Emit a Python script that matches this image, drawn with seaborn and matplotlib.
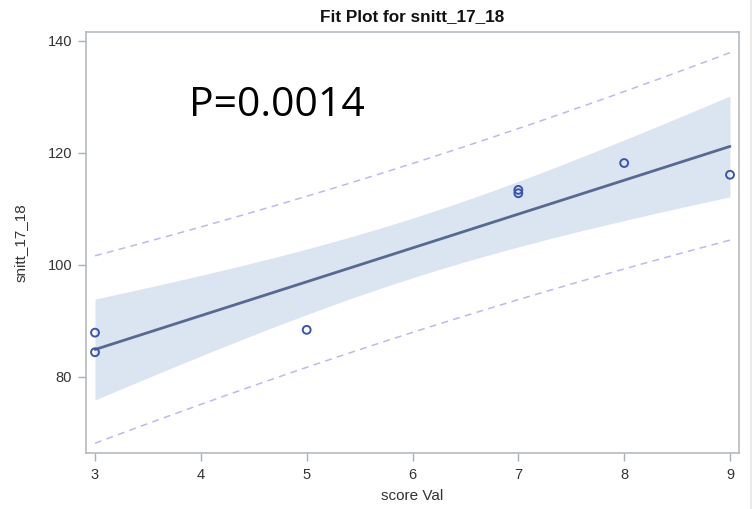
import numpy as np
import pandas as pd
import matplotlib
matplotlib.use("Agg")
import matplotlib.pyplot as plt
from matplotlib.lines import Line2D
import seaborn as sns

# Observations
score_val = [3, 3, 5, 7, 7, 8, 9]
snitt_17_18 = [87.9, 84.4, 88.4, 113.4, 112.8, 118.2, 116.1]

x_ticks = [3, 4, 5, 6, 7, 8, 9]
y_ticks = [80, 100, 120, 140]
p_label = "P=0.0014"

T_975_DF5 = 2.5706  # two-sided 95% t quantile, 5 degrees of freedom

sns.set_theme(style="white")
plt.rcParams["font.family"] = ["Liberation Sans", "DejaVu Sans"]

df = pd.DataFrame({"score Val": score_val, "snitt_17_18": snitt_17_18})

# Ordinary least squares fit with confidence and prediction limits
x = np.asarray(score_val, float)
y = np.asarray(snitt_17_18, float)
n = len(x)
xm = x.mean()
sxx = ((x - xm) ** 2).sum()
slope = ((x - xm) * (y - y.mean())).sum() / sxx
intercept = y.mean() - slope * xm
resid = y - (intercept + slope * x)
s = np.sqrt((resid ** 2).sum() / (n - 2))

xg = np.linspace(x.min(), x.max(), 200)
yg = intercept + slope * xg
se_mean = s * np.sqrt(1 / n + (xg - xm) ** 2 / sxx)
se_pred = s * np.sqrt(1 + 1 / n + (xg - xm) ** 2 / sxx)
grid = pd.DataFrame({
    "x": xg, "fit": yg,
    "clm_lo": yg - T_975_DF5 * se_mean, "clm_hi": yg + T_975_DF5 * se_mean,
    "pi_lo": yg - T_975_DF5 * se_pred, "pi_hi": yg + T_975_DF5 * se_pred,
})

fig = plt.figure(figsize=(7.52, 5.09), dpi=100)
ax = fig.add_axes([0.1144, 0.110, 0.8683, 0.8271])

ax.fill_between(grid["x"], grid["clm_lo"], grid["clm_hi"],
                color="#dbe4f1", linewidth=0, zorder=1)
sns.lineplot(data=grid, x="x", y="fit", ax=ax, color="#56698e",
             linewidth=2.0, zorder=3)
for col in ("pi_lo", "pi_hi"):
    sns.lineplot(data=grid, x="x", y=col, ax=ax, color="#b9bde6",
                 linewidth=1.1, zorder=2).lines[-1].set_dashes([4.5, 3.5])
sns.scatterplot(data=df, x="score Val", y="snitt_17_18", ax=ax,
                marker="o", s=32, facecolor="none", edgecolor="#3a55b0",
                linewidth=1.4, zorder=4)

ax.set_xlim(2.915, 9.085)
ax.set_ylim(66.4, 141.6)
ax.set_xticks(x_ticks)
ax.set_yticks(y_ticks)
ax.set_xticklabels([str(t) for t in x_ticks])
ax.set_yticklabels([str(t) for t in y_ticks])
ax.tick_params(axis="both", which="both", direction="out", length=6, width=1,
               color="#a9b0b6", labelcolor="#333333", labelsize=10.5, pad=4,
               bottom=True, left=True)
ax.tick_params(axis="x", pad=5)
for side in ax.spines.values():
    side.set_color("#b4bbc0")
    side.set_linewidth(1.2)

ax.set_xlabel("score Val", fontsize=11, color="#333333", labelpad=5)
ax.set_ylabel("snitt_17_18", fontsize=11, color="#333333", labelpad=14)
ax.set_title("Fit Plot for snitt_17_18", fontsize=12.3, fontweight="bold",
             color="#111111", pad=8)

ax.text(0.158, 0.826, p_label, transform=ax.transAxes, fontsize=29.5,
        family=["Open Sans", "DejaVu Sans"], color="black",
        ha="left", va="center")

# thin border at the right edge of the canvas
fig.add_artist(Line2D([0.9985, 0.9985], [0, 1], transform=fig.transFigure,
                      color="#e6e6e6", linewidth=1.2))

fig.savefig("out.png", dpi=100)
